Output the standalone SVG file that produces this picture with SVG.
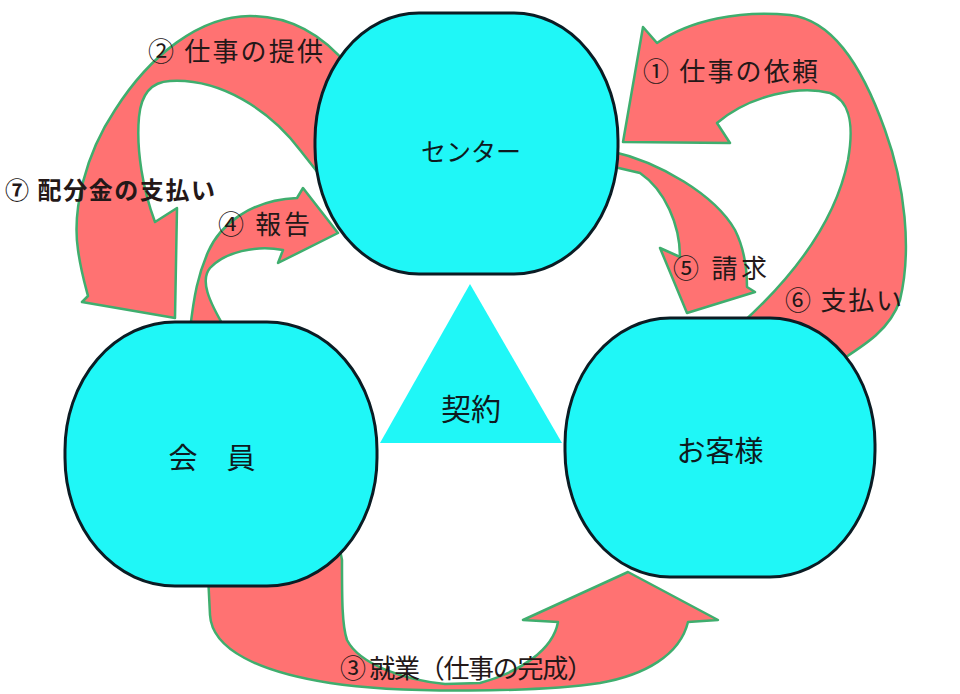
<svg xmlns="http://www.w3.org/2000/svg" width="960" height="694" viewBox="0 0 960 694">
  <style>
    .arrow { fill: #FF7272; stroke: #3FAE6E; stroke-width: 2.5; stroke-linejoin: round; }
    .node { fill: #1FF7F7; stroke: #0B1C24; stroke-width: 3; }
    .tri { fill: #1FF7F7; }
    .lbl { font-family: "Noto Sans CJK JP", "Noto Sans", sans-serif; font-size: 26px; fill: #241818; }
    .bold { font-weight: bold; font-size: 24px; }
    .ntxt { font-family: "Noto Sans CJK JP", "Noto Sans", sans-serif; fill: #0E1A20; text-anchor: middle; }
  </style>
  <rect width="960" height="694" fill="#FFFFFF"/>

  <g id="connectors">
    <!-- ② / ⑦ centre -> member -->
    <path id="arrow-offer-pay" class="arrow" d="M 348,66 C 322,34 290,16 250,16 C 200,16 150,55 115,110 C 85,155 72,210 78,250 C 81,272 86,288 88,296 L 82,302 L 175,318 L 177,208 L 155,222 C 143,190 136,150 139,117 C 141,95 150,82 170,81 C 220,78 270,110 300,150 L 330,188 Z"/>
    <!-- ④ member -> centre -->
    <path id="arrow-report" class="arrow" d="M 190,330 C 194,295 198,275 208,252 C 220,225 250,200 297,198 L 303,188 L 338,233 L 278,263 L 283,250 C 255,245 225,252 210,268 C 200,280 208,300 226,330 Z"/>
    <!-- ⑤ centre -> customer -->
    <path id="arrow-invoice" class="arrow" d="M 610,151 C 660,162 715,195 735,230 C 745,250 747,270 747,287 L 755,292 L 687,313 L 660,248 L 680,257 C 680,225 665,190 640,173 L 610,166 Z"/>
    <!-- ① / ⑥ customer -> centre -->
    <path id="arrow-request-pay" class="arrow" d="M 740,325 C 790,280 835,225 848,160 C 855,120 848,100 830,93 C 800,85 750,95 717,123 L 730,143 L 623,142 L 643,27 L 657,43 C 690,20 740,10 790,15 C 830,20 860,60 885,130 C 905,185 912,250 900,300 C 890,330 865,345 832,366 Z"/>
    <!-- ③ member -> customer -->
    <path id="arrow-work" class="arrow" d="M 208,575 L 210,615 C 212,650 260,672 330,683 C 400,694 540,692 600,683 C 645,675 680,655 688,622 L 718,620 L 628,572 L 523,620 L 558,622 C 553,650 520,672 480,683 L 445,684 C 405,680 360,665 347,640 C 342,625 342,600 342,560 L 338,540 Z"/>

    <text class="lbl" x="148" y="61" textLength="175" lengthAdjust="spacing">② 仕事の提供</text>
    <text class="lbl" x="643" y="81" textLength="175" lengthAdjust="spacing">① 仕事の依頼</text>
    <text class="lbl bold" x="5" y="199" textLength="210" lengthAdjust="spacing">⑦ 配分金の支払い</text>
    <text class="lbl" x="218" y="234" textLength="92" lengthAdjust="spacing">④ 報告</text>
    <text class="lbl" x="673" y="278" textLength="94" lengthAdjust="spacing">⑤ 請求</text>
    <text class="lbl" x="785" y="310" textLength="117" lengthAdjust="spacing">⑥ 支払い</text>
    <text class="lbl" x="340" y="678" textLength="253" lengthAdjust="spacing">③ 就業（仕事の完成）</text>
  </g>

  <g id="contract">
    <polygon class="tri" points="470,284 380,443 562,443"/>
    <text class="ntxt" x="471" y="420" font-size="30">契約</text>
  </g>

  <g id="center">
    <rect class="node" x="315" y="13" width="303" height="261" rx="104" ry="127"/>
    <text class="ntxt" x="471" y="161" font-size="25">センター</text>
  </g>

  <g id="member">
    <rect class="node" x="65" y="322" width="312" height="264" rx="110" ry="128"/>
    <text class="ntxt" x="212" y="469" font-size="29">会　員</text>
  </g>

  <g id="customer">
    <rect class="node" x="565" y="318" width="310" height="259" rx="105" ry="126"/>
    <text class="ntxt" x="720" y="462" font-size="29">お客様</text>
  </g>
</svg>
